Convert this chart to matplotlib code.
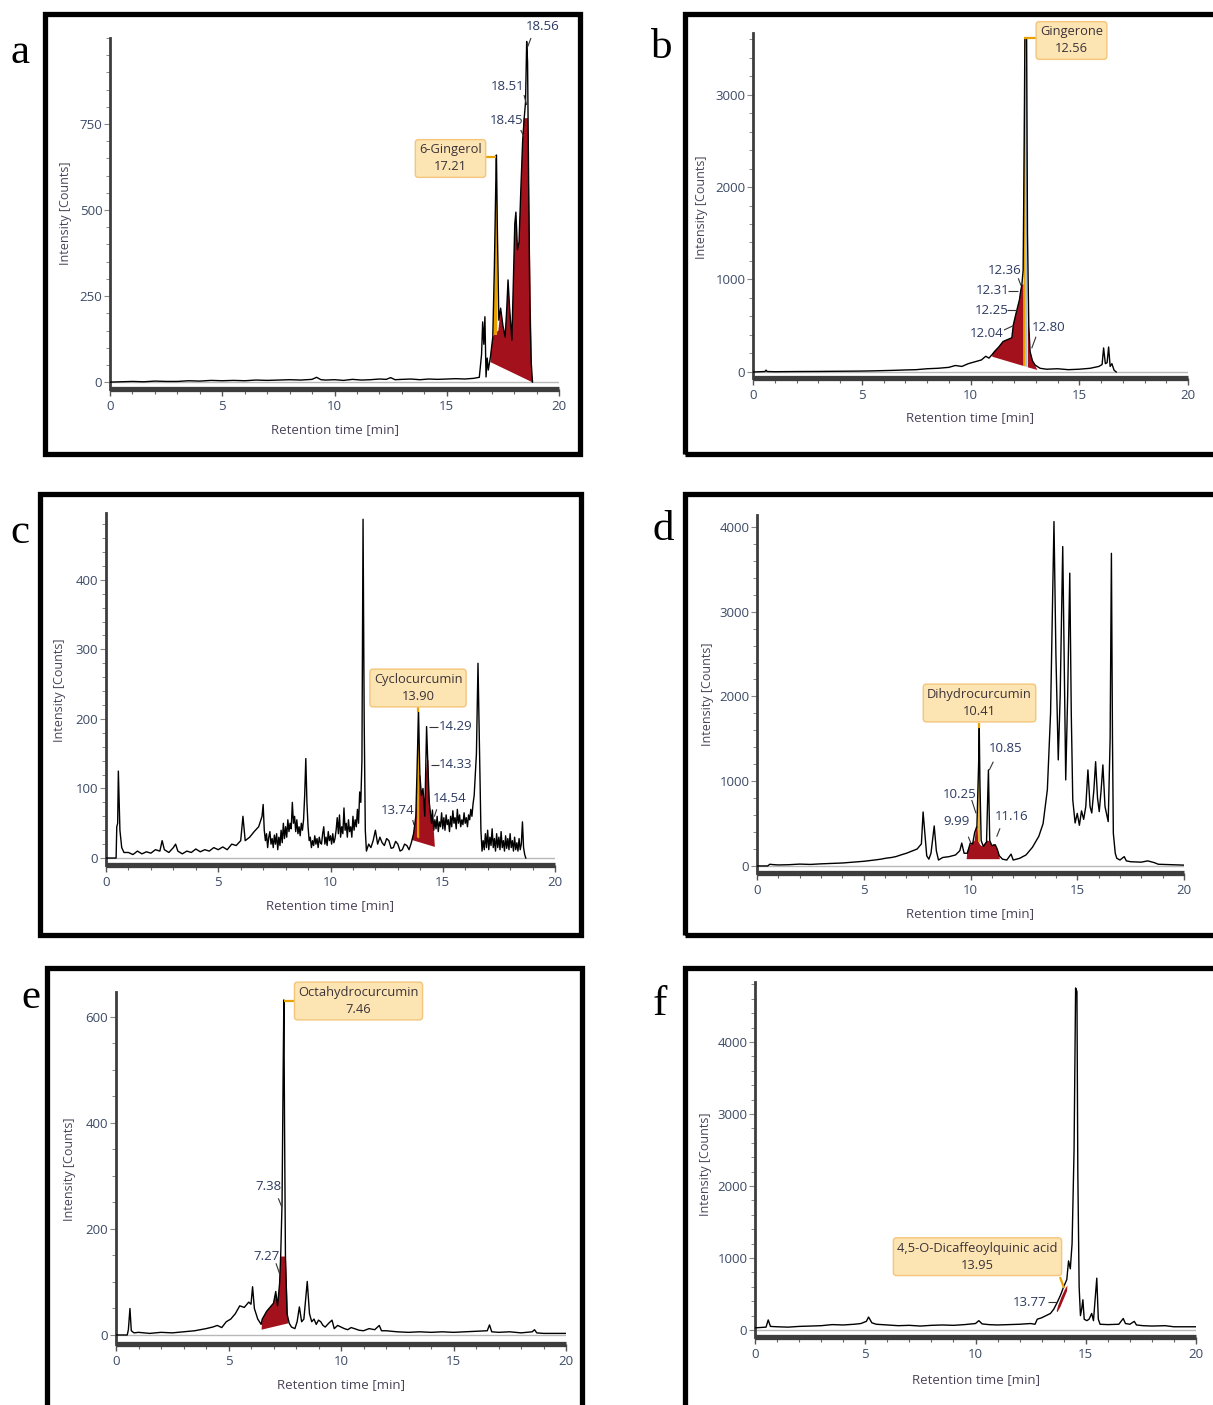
import matplotlib
matplotlib.use('Agg')
import matplotlib.pyplot as plt
from matplotlib.patches import Rectangle
from matplotlib.lines import Line2D
from matplotlib.ticker import MultipleLocator

# ---------------- DATA ----------------
panel_letters = ['a', 'b', 'c', 'd', 'e', 'f']
x_label = 'Retention time [min]'
y_label = 'Intensity [Counts]'
x_ticks = [0, 5, 10, 15, 20]

compounds = ['6-Gingerol', 'Gingerone', 'Cyclocurcumin', 'Dihydrocurcumin',
             'Octahydrocurcumin', '4,5-O-Dicaffeoylquinic acid']
compound_rt = ['17.21', '12.56', '13.90', '10.41', '7.46', '13.95']

peaks_a = ['18.56', '18.51', '18.45']
peaks_b = ['12.36', '12.31', '12.25', '12.04', '12.80']
peaks_c = ['13.74', '14.29', '14.33', '14.54']
peaks_d = ['10.85', '10.25', '9.99', '11.16']
peaks_e = ['7.38', '7.27']
peaks_f = ['13.77']

yticks_a = [0, 250, 500, 750]
yticks_b = [0, 1000, 2000, 3000]
yticks_c = [0, 100, 200, 300, 400]
yticks_d = [0, 1000, 2000, 3000, 4000]
yticks_e = [0, 200, 400, 600]
yticks_f = [0, 1000, 2000, 3000, 4000]

# chromatogram traces: (retention time [min], intensity [counts])
trace_a = [(0, 0), (0.5, 1), (1, 2), (1.5, 1), (2, 3), (2.5, 2), (3, 2), (3.5, 4), (4, 3),
           (4.5, 5), (5, 4), (5.5, 5), (6, 4), (6.5, 6), (7, 5), (7.5, 6), (8, 7), (8.5, 6),
           (9, 8), (9.2, 14), (9.4, 7), (9.6, 6), (10, 7), (10.4, 5), (10.8, 8), (11.2, 6),
           (11.6, 7), (12, 9), (12.3, 8), (12.5, 13), (12.7, 7), (13, 8), (13.4, 9), (13.8, 7),
           (14.2, 9), (14.6, 8), (15, 9), (15.4, 10), (15.8, 9), (16.2, 11), (16.45, 14),
           (16.55, 80), (16.6, 175), (16.65, 110), (16.7, 190), (16.75, 15), (16.8, 70),
           (16.85, 35), (16.95, 75), (17.05, 130), (17.12, 330), (17.18, 560), (17.21, 660),
           (17.26, 420), (17.32, 180), (17.4, 215), (17.5, 165), (17.6, 131), (17.67, 210),
           (17.73, 297), (17.8, 215), (17.9, 122), (17.97, 300), (18.03, 460), (18.08, 494),
           (18.15, 385), (18.22, 407), (18.3, 560), (18.38, 700), (18.45, 767), (18.51, 814),
           (18.56, 990), (18.6, 930), (18.65, 560), (18.7, 220), (18.76, 60), (18.82, 0)]
red_a = [[(16.95, 58), (16.95, 80), (17.05, 130), (17.12, 140), (17.3, 150), (17.4, 215),
          (17.5, 165), (17.6, 131), (17.67, 210), (17.73, 297), (17.8, 215), (17.9, 122),
          (17.97, 300), (18.03, 460), (18.08, 494), (18.15, 385), (18.22, 407), (18.3, 560),
          (18.38, 700), (18.42, 767), (18.62, 767), (18.8, 0)]]
orange_a = [[(17.08, 137), (17.18, 600), (17.21, 660), (17.25, 660), (17.26, 200), (17.24, 137)]]

trace_b = [(0, 0), (0.55, 5), (0.6, 20), (0.65, 5), (1, 3), (2, 5), (3, 6), (4, 8), (5, 10),
           (5.5, 12), (6, 15), (6.5, 18), (7, 22), (7.5, 25), (8, 35), (8.5, 40), (9, 50),
           (9.3, 70), (9.6, 60), (9.9, 90), (10.2, 110), (10.5, 130), (10.7, 170), (10.85, 150),
           (11.0, 190), (11.1, 220), (11.3, 270), (11.5, 330), (11.7, 350), (11.9, 370),
           (11.97, 510), (12.1, 640), (12.25, 780), (12.31, 880), (12.36, 940), (12.42, 1100),
           (12.47, 2500), (12.5, 3610), (12.58, 3610), (12.62, 1500), (12.68, 500),
           (12.74, 220), (12.85, 120), (12.97, 75), (13.2, 40), (13.5, 30), (14, 35),
           (14.5, 25), (15, 30), (15.5, 40), (15.9, 60), (16.05, 80), (16.12, 260), (16.2, 90),
           (16.28, 100), (16.35, 270), (16.42, 60), (16.5, 90), (16.6, 20), (16.7, 0)]
red_b = [[(11.0, 165), (11.0, 190), (11.1, 225), (11.3, 275), (11.5, 330), (11.7, 350),
          (11.9, 370), (11.97, 510), (12.1, 640), (12.25, 780), (12.31, 880), (12.36, 940),
          (12.44, 950), (12.44, 65)],
         [(12.64, 50), (12.64, 700), (12.68, 500), (12.74, 220), (12.85, 120), (12.97, 75),
          (13.07, 22)]]
orange_b = [[(12.44, 65), (12.44, 2200), (12.48, 3610), (12.53, 3610), (12.53, 60)]]
blue_b = [[(12.53, 60), (12.53, 3300), (12.6, 3300), (12.62, 52)]]

trace_c = [(0, 0), (0.45, 0), (0.48, 45), (0.52, 50), (0.55, 125), (0.58, 90), (0.62, 40),
           (0.7, 15), (0.8, 8), (1.0, 8), (1.2, 5), (1.4, 10), (1.6, 6), (1.8, 9), (2.0, 7),
           (2.2, 12), (2.4, 10), (2.5, 25), (2.6, 12), (2.8, 8), (3.0, 15), (3.1, 20), (3.2, 10),
           (3.4, 6), (3.6, 10), (3.8, 8), (4.0, 13), (4.2, 9), (4.4, 12), (4.6, 10), (4.8, 15),
           (5.0, 12), (5.2, 16), (5.4, 12), (5.6, 20), (5.8, 18), (6.0, 25), (6.1, 60),
           (6.2, 25), (6.4, 30), (6.6, 38), (6.8, 45), (6.95, 60),
           (7.0, 77), (7.05, 40), (7.1, 25), (7.15, 35), (7.2, 15), (7.25, 30), (7.3, 38),
           (7.35, 20), (7.4, 28), (7.45, 15), (7.5, 33), (7.55, 20), (7.6, 35), (7.65, 12),
           (7.7, 30), (7.75, 18), (7.8, 40), (7.85, 22), (7.9, 50), (7.95, 28), (8.0, 45),
           (8.05, 30), (8.1, 55), (8.15, 38), (8.2, 50), (8.25, 42), (8.3, 80), (8.35, 50),
           (8.4, 60), (8.45, 38), (8.5, 55), (8.55, 35), (8.6, 45), (8.65, 32), (8.7, 50),
           (8.75, 40), (8.8, 55), (8.85, 90), (8.9, 143), (8.95, 80), (9.0, 45), (9.05, 25),
           (9.1, 30), (9.15, 15), (9.2, 25), (9.25, 18), (9.3, 32), (9.35, 20), (9.4, 28),
           (9.45, 15), (9.5, 30), (9.55, 22), (9.6, 20), (9.65, 35), (9.7, 45), (9.75, 20),
           (9.8, 30), (9.85, 18), (9.9, 38), (9.95, 25), (10.0, 32), (10.05, 20), (10.1, 35),
           (10.15, 22), (10.2, 28), (10.25, 40), (10.3, 58), (10.35, 35), (10.4, 62),
           (10.45, 30), (10.5, 45), (10.55, 35), (10.6, 72), (10.65, 40), (10.7, 50),
           (10.75, 30), (10.8, 55), (10.85, 38), (10.9, 45), (10.95, 30), (11.0, 60),
           (11.05, 40), (11.1, 55), (11.15, 45), (11.2, 70), (11.25, 50), (11.3, 95),
           (11.35, 80), (11.4, 140), (11.45, 487), (11.5, 200), (11.55, 40), (11.6, 10),
           (11.7, 20), (11.8, 15), (11.9, 25), (12.0, 40), (12.1, 20), (12.2, 30), (12.3, 22),
           (12.4, 18), (12.5, 28), (12.6, 25), (12.7, 14), (12.8, 15), (12.9, 24), (13.0, 20),
           (13.1, 10), (13.2, 12), (13.3, 20), (13.4, 18), (13.5, 12), (13.6, 22), (13.7, 35),
           (13.8, 60), (13.85, 120), (13.92, 210), (13.98, 120), (14.05, 90), (14.12, 100),
           (14.2, 60), (14.28, 189), (14.33, 141), (14.4, 80), (14.5, 50), (14.54, 69),
           (14.6, 40), (14.65, 55), (14.7, 42), (14.75, 60), (14.8, 38), (14.85, 52),
           (14.9, 45), (14.95, 65), (15.0, 42), (15.05, 58), (15.1, 40), (15.15, 62),
           (15.2, 48), (15.25, 55), (15.3, 38), (15.35, 60), (15.4, 45), (15.45, 68),
           (15.5, 50), (15.55, 58), (15.6, 42), (15.65, 70), (15.7, 50), (15.75, 62),
           (15.8, 45), (15.85, 55), (15.9, 48), (15.95, 65), (16.0, 50), (16.05, 58),
           (16.1, 45), (16.15, 62), (16.2, 55), (16.25, 70), (16.3, 60), (16.35, 78),
           (16.4, 90), (16.5, 150), (16.57, 280), (16.64, 150), (16.7, 40), (16.75, 10),
           (16.8, 25), (16.85, 12), (16.9, 35), (16.95, 15), (17.0, 40), (17.05, 12),
           (17.1, 30), (17.15, 18), (17.2, 42), (17.25, 15), (17.3, 28), (17.35, 10),
           (17.4, 35), (17.45, 15), (17.5, 30), (17.55, 12), (17.6, 38), (17.65, 15),
           (17.7, 25), (17.75, 10), (17.8, 32), (17.85, 14), (17.9, 28), (17.95, 12),
           (18.0, 35), (18.05, 15), (18.1, 25), (18.15, 10), (18.2, 30), (18.25, 12),
           (18.3, 22), (18.35, 10), (18.4, 28), (18.45, 12), (18.5, 20), (18.55, 52),
           (18.6, 15), (18.65, 5), (18.7, 0)]
red_c = [[(13.62, 26), (13.7, 35), (13.8, 60), (13.85, 100), (13.9, 119), (14.0, 119),
          (14.05, 90), (14.12, 100), (14.2, 60), (14.25, 120), (14.3, 141), (14.36, 141),
          (14.4, 80), (14.5, 50), (14.54, 69), (14.6, 40), (14.65, 16)]]
orange_c = [[(13.85, 30), (13.88, 210), (13.95, 210), (13.95, 28)]]

trace_d = [(0, 0), (0.5, 0), (0.6, 20), (0.8, 15), (1, 12), (1.5, 15), (2, 22), (2.5, 18),
           (3, 25), (3.5, 30), (4, 35), (4.5, 45), (5, 55), (5.5, 70), (5.8, 80), (6, 90),
           (6.3, 100), (6.5, 110), (6.8, 135), (7, 150), (7.3, 180), (7.5, 200), (7.7, 260),
           (7.78, 637), (7.85, 420), (7.95, 120), (8.05, 80), (8.15, 150), (8.3, 472),
           (8.4, 180), (8.5, 70), (8.7, 100), (9.0, 110), (9.3, 130), (9.5, 180), (9.59, 270),
           (9.7, 150), (9.85, 150), (9.99, 271), (10.1, 260), (10.2, 400), (10.3, 464),
           (10.38, 1200), (10.41, 1625), (10.44, 1000), (10.5, 300), (10.6, 230),
           (10.75, 280), (10.84, 1133), (10.9, 300), (11.0, 240), (11.16, 250), (11.25, 200),
           (11.35, 120), (11.5, 80), (11.7, 70), (11.9, 140), (12.0, 70), (12.3, 90),
           (12.6, 130), (12.9, 220), (13.2, 350), (13.4, 500), (13.6, 900), (13.75, 1800),
           (13.91, 4063), (14.0, 2500), (14.11, 1251), (14.2, 2000), (14.32, 3768),
           (14.4, 2200), (14.46, 1015), (14.55, 2000), (14.65, 3454), (14.72, 1800),
           (14.79, 779), (14.9, 507), (15.0, 620), (15.1, 480), (15.2, 650), (15.3, 550),
           (15.4, 700), (15.5, 1133), (15.6, 700), (15.68, 625), (15.78, 900), (15.86, 1230),
           (15.95, 800), (16.03, 641), (16.12, 900), (16.2, 1192), (16.3, 700), (16.45, 523),
           (16.54, 1500), (16.6, 3688), (16.65, 1500), (16.69, 386), (16.78, 150),
           (16.85, 91), (17.0, 70), (17.2, 110), (17.3, 60), (17.5, 50), (18.0, 45),
           (18.3, 60), (18.6, 40), (18.8, 20), (20, 10)]
red_d = [[(9.82, 80), (9.85, 170), (9.95, 240), (10.05, 265), (10.2, 300), (10.25, 460),
          (10.33, 470), (10.36, 300), (10.45, 250), (10.55, 230), (10.7, 280), (10.8, 300),
          (10.9, 290), (11.0, 240), (11.1, 260), (11.2, 230), (11.3, 160), (11.38, 80)]]
orange_d = [[(10.36, 280), (10.38, 1625), (10.44, 1625), (10.44, 280)]]

trace_e = [(0, 0), (0.5, 0), (0.55, 10), (0.62, 50), (0.68, 8), (0.8, 4), (1, 5), (1.5, 3),
           (2, 5), (2.5, 4), (3, 6), (3.5, 8), (4, 12), (4.3, 15), (4.5, 18), (4.7, 14),
           (4.9, 25), (5.1, 30), (5.3, 40), (5.5, 55), (5.7, 52), (5.9, 62), (6.0, 58),
           (6.07, 91), (6.15, 50), (6.3, 30), (6.45, 20), (6.5, 30), (6.7, 45), (6.9, 55),
           (7.0, 60), (7.1, 82), (7.18, 55), (7.27, 97), (7.32, 150), (7.38, 249), (7.43, 500),
           (7.46, 632), (7.49, 400), (7.53, 150), (7.6, 40), (7.7, 22), (7.8, 15), (7.95, 12),
           (8.05, 25), (8.15, 53), (8.25, 25), (8.35, 30), (8.5, 101), (8.6, 40), (8.7, 25),
           (8.8, 30), (8.9, 20), (9.0, 28), (9.1, 25), (9.2, 18), (9.3, 15), (9.45, 22),
           (9.6, 28), (9.7, 12), (9.85, 18), (10, 15), (10.15, 12), (10.3, 10), (10.45, 14),
           (10.6, 12), (10.8, 9), (11, 8), (11.25, 12), (11.5, 10), (11.7, 18), (11.8, 8),
           (12, 8), (12.5, 6), (13, 5), (13.5, 6), (14, 5), (14.5, 6), (15, 5), (15.5, 6),
           (16, 7), (16.5, 8), (16.6, 19), (16.7, 6), (17, 5), (17.5, 6), (18, 4), (18.5, 6),
           (18.6, 10), (18.7, 4), (19, 3), (20, 3)]
red_e = [[(6.47, 10), (6.5, 30), (6.7, 45), (6.9, 55), (7.0, 60), (7.1, 82), (7.18, 55),
          (7.27, 97), (7.32, 148), (7.55, 148), (7.66, 22)]]
orange_e = []

trace_f = [(0, 30), (0.5, 40), (0.6, 140), (0.7, 50), (1, 45), (1.5, 40), (2, 50), (2.5, 55),
           (3, 60), (3.5, 75), (4, 70), (4.5, 80), (4.8, 90), (5.05, 120), (5.15, 180),
           (5.3, 100), (5.5, 80), (6, 70), (6.5, 60), (7, 65), (7.5, 55), (8, 65), (8.5, 70),
           (9, 65), (9.5, 75), (10.0, 90), (10.15, 130), (10.3, 85), (10.6, 75), (11, 70),
           (11.5, 75), (12, 80), (12.5, 90), (12.7, 80), (12.8, 150), (13.0, 170), (13.2, 200),
           (13.4, 230), (13.55, 290), (13.7, 380), (13.85, 480), (14.0, 600), (14.14, 700),
           (14.22, 960), (14.3, 850), (14.38, 1200), (14.47, 2500), (14.54, 4750),
           (14.6, 4700), (14.64, 2200), (14.7, 600), (14.76, 200), (14.82, 300), (14.87, 420),
           (14.93, 150), (15.05, 130), (15.15, 150), (15.27, 230), (15.35, 130), (15.5, 720),
           (15.57, 150), (15.65, 80), (16, 75), (16.5, 80), (16.7, 160), (16.8, 90), (17, 80),
           (17.2, 120), (17.3, 70), (17.6, 60), (18, 55), (18.6, 60), (19, 45), (20, 45)]
red_f = [[(13.68, 260), (13.75, 340), (13.9, 460), (14.05, 560), (14.17, 620), (14.15, 540),
          (14.0, 430), (13.85, 320), (13.72, 250)]]
orange_f = []

# ---------------- LAYOUT / STYLE ----------------
W, H = 1213, 1405
DPI = 100
SANS = ['Open Sans', 'DejaVu Sans']
SERIF = ['Liberation Serif', 'DejaVu Serif']
TICK_C = '#3b4a66'
LAB_C = '#4a4358'
PEAK_C = '#2c3a62'
RED = '#a3121c'
ORANGE = '#e8a200'
AXIS_C = '#3d3d3d'

fig = plt.figure(figsize=(W / DPI, H / DPI), dpi=DPI)
fig.patch.set_facecolor('white')


def fx(x):
    return x / W


def fy(y):
    return 1 - y / H


def seg(x1, y1, x2, y2, color, lw):
    fig.add_artist(Line2D([fx(x1), fx(x2)], [fy(y1), fy(y2)], transform=fig.transFigure,
                          color=color, lw=lw, solid_capstyle='butt'))


layout = [
    dict(trace=trace_a, red=red_a, orange=orange_a, blue=[], yticks=yticks_a, yminor=50,
         ylim=(-20, 1000), rect=(110, 559, 389, 38), frame=(45, 14, 580, 454),
         letter=(20, 63), ylab=(65, 213), xlab=(335, 430),
         peaks=peaks_a,
         peak_pos=[((543, 27), (531, 38, 527.7, 46.7)), ((508, 87), (524, 95, 526.7, 105)),
                   ((507, 120), (520.7, 130, 524, 136.7))],
         box=(450.5, 158.5), conn=(485, 157, 496, 157)),
    dict(trace=trace_b, red=red_b, orange=orange_b, blue=blue_b, yticks=yticks_b, yminor=200,
         ylim=(-65, 3665), rect=(753, 1188, 378, 33), frame=(685, 14, 1240, 454),
         letter=(662, 58), ylab=(702, 207), xlab=(970, 418),
         peaks=peaks_b,
         peak_pos=[((1005, 270), (1018.3, 278.3, 1021, 285.7)),
                   ((992.7, 291), (1008.3, 291, 1018.3, 291)),
                   ((991.7, 310), (1007.3, 310, 1016.7, 310)),
                   ((986.7, 333.3), (1004, 330, 1013.3, 325.7)),
                   ((1049, 327.7), (1036, 336.7, 1031.7, 348.3))],
         box=(1071.5, 40.5), conn=(1038, 38, 1024, 38)),
    dict(trace=trace_c, red=red_c, orange=orange_c, blue=[], yticks=yticks_c, yminor=20,
         ylim=(-10, 496), rect=(106, 555, 865, 513), frame=(40, 494, 581, 935),
         letter=(20, 543), ylab=(60, 690), xlab=(330, 906),
         peaks=peaks_c,
         peak_pos=[((397.3, 810.7), (412.7, 820, 414, 825)),
                   ((456, 726.7), (429.3, 726.7, 438.3, 726.7)),
                   ((456, 765), (430.7, 765, 439.3, 765)),
                   ((450, 798.3), (436.7, 809.3, 434.3, 816.7))],
         box=(418, 688), conn=(418, 707, 418, 712)),
    dict(trace=trace_d, red=red_d, orange=orange_d, blue=[], yticks=yticks_d, yminor=200,
         ylim=(-83, 4140), rect=(757, 1184, 873, 515), frame=(685, 494, 1240, 935),
         letter=(663, 540), ylab=(707, 694), xlab=(970, 914),
         peaks=peaks_d,
         peak_pos=[((1006, 748.3), (993.3, 761.7, 989.3, 770)),
                   ((960, 795), (971.7, 800, 976, 813.3)),
                   ((956.7, 821.7), (968.3, 836.7, 970.7, 842.7)),
                   ((1011.7, 816.7), (1000, 828.3, 996.7, 836.7))],
         box=(979.5, 703), conn=(979, 723, 979, 728)),
    dict(trace=trace_e, red=red_e, orange=orange_e, blue=[], yticks=yticks_e, yminor=50,
         ylim=(-17, 647), rect=(116, 566, 1344, 992), frame=(47, 968, 582, 1425),
         letter=(31, 1008), ylab=(70, 1169), xlab=(341, 1385),
         peaks=peaks_e,
         peak_pos=[((268.3, 1186.7), (278.3, 1198.3, 281.7, 1206.7)),
                   ((266.7, 1256.7), (276, 1263.3, 280, 1275))],
         box=(358.5, 1001), conn=(284, 1001, 296, 1001)),
    dict(trace=trace_f, red=red_f, orange=orange_f, blue=[], yticks=yticks_f, yminor=200,
         ylim=(-97, 4833), rect=(755, 1196, 1337, 982), frame=(685, 968, 1240, 1425),
         letter=(660, 1015), ylab=(705, 1164), xlab=(976, 1380),
         peaks=peaks_f,
         peak_pos=[((1030, 1302), (1048, 1302, 1057, 1302))],
         box=(977.5, 1256.7), conn=(1060, 1277, 1064, 1288)),
]

for i, P in enumerate(layout):
    x0, x20, ybar, ytop = P['rect']
    ax = fig.add_axes([fx(x0), fy(ybar), (x20 - x0) / W, (ybar - ytop) / H])
    ax.set_xlim(0, 20)
    ax.set_ylim(*P['ylim'])
    ax.patch.set_alpha(0)
    for s in ('top', 'right'):
        ax.spines[s].set_visible(False)
    ax.spines['left'].set_color(AXIS_C)
    ax.spines['left'].set_linewidth(2.0)
    ax.spines['bottom'].set_color(AXIS_C)
    ax.spines['bottom'].set_linewidth(3.8)
    ax.spines['bottom'].set_capstyle('butt')

    ax.set_xticks(x_ticks)
    ax.xaxis.set_minor_locator(MultipleLocator(1))
    ax.set_yticks(P['yticks'])
    ax.yaxis.set_minor_locator(MultipleLocator(P['yminor']))
    ax.tick_params(axis='x', which='major', length=5, width=1.0, color='#555555', pad=3,
                   labelsize=9.5, labelcolor=TICK_C)
    ax.tick_params(axis='x', which='minor', length=3.5, width=0.8, color='#666666')
    ax.tick_params(axis='y', which='major', length=4, width=0.8, color='#888888', pad=1.5,
                   labelsize=9.5, labelcolor=TICK_C)
    ax.tick_params(axis='y', which='minor', length=3, width=0.7, color='#888888')
    for lab in ax.get_xticklabels() + ax.get_yticklabels():
        lab.set_fontfamily(SANS)

    # reference baseline
    ax.plot([0, 20], [0, 0], color='#b8b8b8', lw=1.0, zorder=1)

    for poly in P['red']:
        ax.fill([p[0] for p in poly], [p[1] for p in poly], color=RED, lw=0, zorder=2)
    for poly in P['blue']:
        ax.fill([p[0] for p in poly], [p[1] for p in poly], color='#a9bfd6', lw=0, zorder=2)
    for poly in P['orange']:
        ax.fill([p[0] for p in poly], [p[1] for p in poly], color=ORANGE, lw=0, zorder=3)

    tr = P['trace']
    ax.plot([p[0] for p in tr], [p[1] for p in tr], color='black', lw=1.0, zorder=4,
            solid_joinstyle='round')

    # frame
    fl, ft, fr, fb = P['frame']
    fig.add_artist(Rectangle((fx(fl), fy(fb)), (fr - fl) / W, (fb - ft) / H,
                             transform=fig.transFigure, fill=False, ec='black', lw=3.8,
                             clip_on=False))
    # letters
    lx, ly = P['letter']
    fig.text(fx(lx), fy(ly), panel_letters[i], ha='center', va='baseline',
             fontsize=31, family=SERIF, color='black')
    # axis labels
    yx, yy = P['ylab']
    fig.text(fx(yx), fy(yy), y_label, rotation=90, ha='center', va='center',
             fontsize=9, family=SANS, color=LAB_C)
    xx, xy = P['xlab']
    fig.text(fx(xx), fy(xy), x_label, ha='center', va='center',
             fontsize=9.5, family=SANS, color=LAB_C)

    # peak retention time labels with leader lines
    for lbl, ((tx, ty), (a1, b1, a2, b2)) in zip(P['peaks'], P['peak_pos']):
        fig.text(fx(tx), fy(ty), lbl, ha='center', va='center', fontsize=9.5,
                 family=SANS, color=PEAK_C)
        seg(a1, b1, a2, b2, '#333333', 0.8)

    # compound box
    bx, by = P['box']
    c1, d1, c2, d2 = P['conn']
    seg(c1, d1, c2, d2, ORANGE, 1.6)
    fig.text(fx(bx), fy(by), compounds[i] + '\n' + compound_rt[i], ha='center',
             va='center', fontsize=9.3, family=SANS, color='#3a3238', linespacing=1.4,
             bbox=dict(boxstyle='round,pad=0.3,rounding_size=0.25', fc='#fde4b3',
                       ec='#f4c57a', lw=1.0))

fig.savefig('out.png', dpi=DPI, facecolor='white')
